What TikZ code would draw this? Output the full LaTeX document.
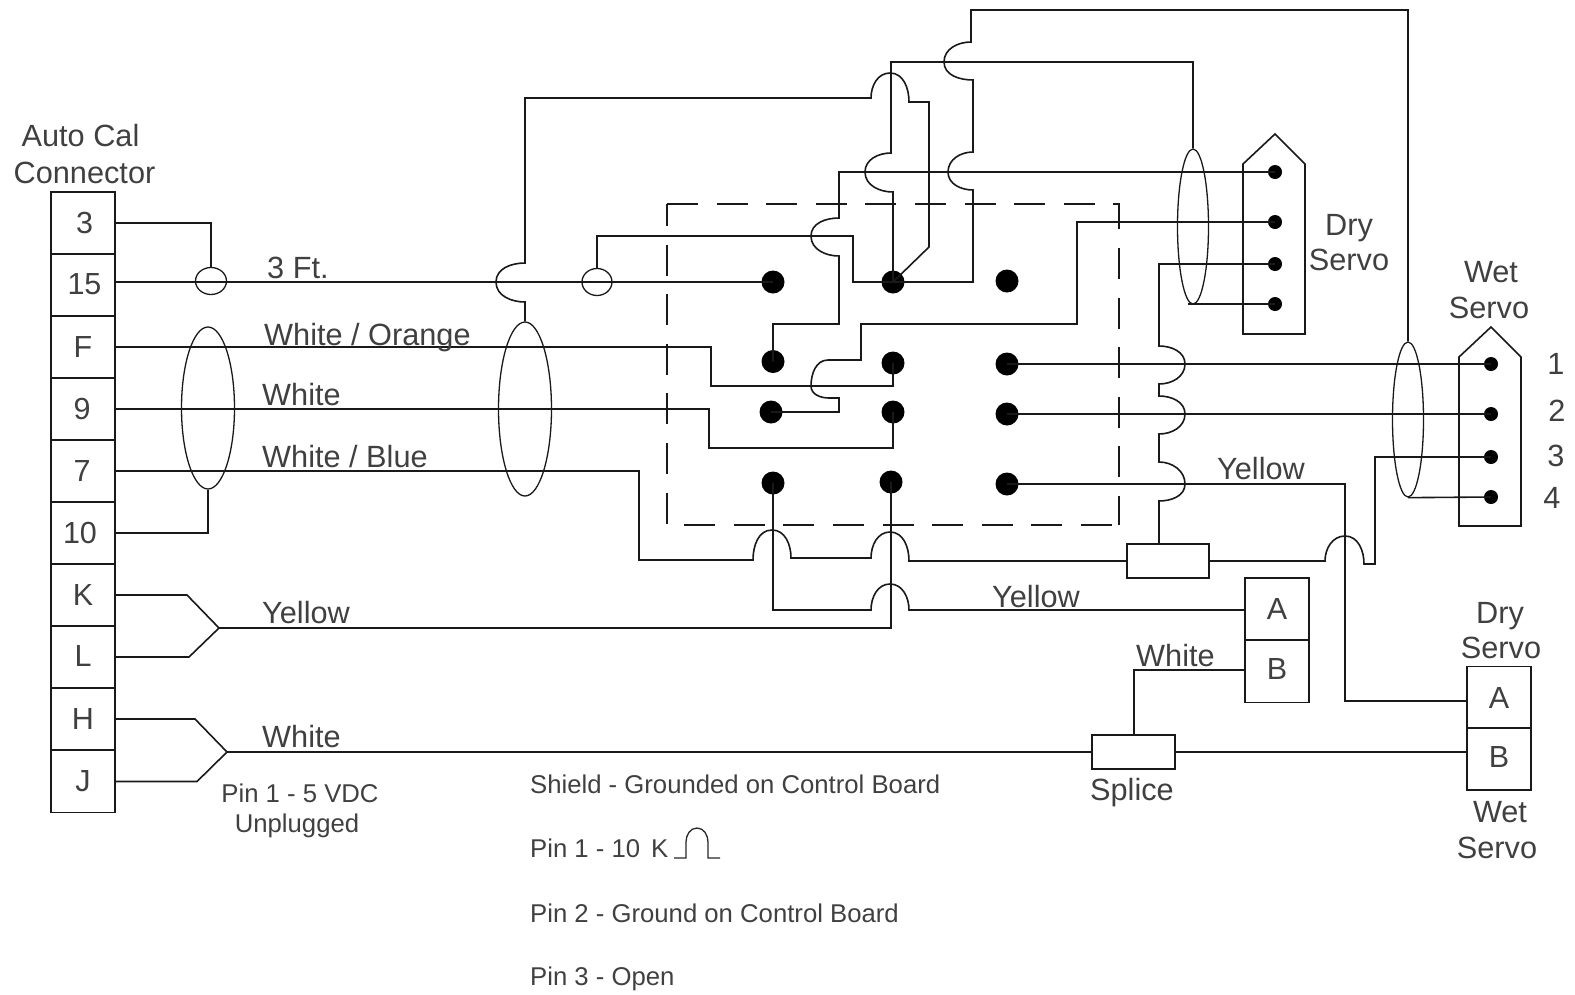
\documentclass[tikz,border=0pt]{standalone}
\usepackage{fontspec}
\setmainfont{Liberation Sans}
\usetikzlibrary{shapes.geometric}
\tikzset{
  wire/.style={draw=black!90,line width=1.6pt,line join=miter},
  cell/.style={draw=black!90,line width=1.6pt,rectangle,inner sep=0pt,minimum width=64pt,minimum height=62pt,text=black!75,font=\fontsize{30.5}{30.5}\selectfont},
  bigdot/.style={circle,fill=black,inner sep=0pt,minimum size=23pt},
  smalldot/.style={circle,fill=black,inner sep=0pt,minimum size=14pt},
  shield/.style={ellipse,draw=black!90,line width=1.3pt,inner sep=0pt},
  splicebox/.style={rectangle,draw=black!90,line width=1.6pt,inner sep=0pt,minimum height=34pt},
  boarddash/.style={draw=black!90,line width=1.6pt,dash pattern=on 31pt off 18.6pt},
  lab/.style={anchor=base west,inner sep=0pt,text=black!75,font=\fontsize{30.7}{30.7}\selectfont},
  labc/.style={anchor=base,inner sep=0pt,text=black!75,font=\fontsize{30.7}{30.7}\selectfont},
  note/.style={anchor=base west,inner sep=0pt,text=black!75,font=\fontsize{25.7}{25.7}\selectfont},
  notec/.style={anchor=base,inner sep=0pt,text=black!75,font=\fontsize{25.7}{25.7}\selectfont},
}
\begin{document}
\begin{tikzpicture}[x=1pt,y=-1pt]
\useasboundingbox (0,0) rectangle (1575,994);
% left connector
\node[cell] (c3) at (83,223) {\kern3pt 3};
\node[cell] (c15) at (83,285) {\kern3pt\raisebox{1pt}{15}};
\node[cell] (cF) at (83,347) {\raisebox{-3pt}{F}};
\node[cell] (c9) at (83,409) {\kern-2pt\raisebox{1pt}{9}};
\node[cell] (c7) at (83,471) {\kern-2pt\raisebox{-1pt}{7}};
\node[cell] (c10) at (83,533) {\kern-6pt\raisebox{-4pt}{10}};
\node[cell] (cK) at (83,595) {K};
\node[cell] (cL) at (83,657) {\raisebox{2pt}{L}};
\node[cell] (cH) at (83,719) {\raisebox{-4pt}{H}};
\node[cell] (cJ) at (83,781.5) {\raisebox{-1pt}{J}};
% right boxes
\node[cell] (A1) at (1277,609) {\raisebox{-1pt}{A}};
\node[cell] (B1) at (1277,671.5) {\raisebox{5pt}{B}};
\node[cell] (A2) at (1499,697.5) {A};
\node[cell] (B2) at (1499,759) {\raisebox{4pt}{B}};
% splices
\node[splicebox,minimum width=82pt] (res) at (1168,561) {};
\node[splicebox,minimum width=83pt] (spl) at (1133.5,752) {};
% shields
\node[shield,minimum width=31pt,minimum height=27pt] (cir1) at (211,281) {};
\node[shield,minimum width=30pt,minimum height=27pt] (cir2) at (597,282) {};
\node[shield,minimum width=53pt,minimum height=162pt] (e1) at (208,408) {};
\node[shield,minimum width=53pt,minimum height=174pt] (e2) at (525,409) {};
\node[shield,minimum width=31pt,minimum height=155pt] (e3) at (1193,226.5) {};
\node[shield,minimum width=31pt,minimum height=155pt] (e4) at (1408,419.5) {};
% board dots
\node[bigdot] (d11) at (773,282) {};
\node[bigdot] (d12) at (893,282) {};
\node[bigdot] (d13) at (1007,281) {};
\node[bigdot] (d21) at (773,361.5) {};
\node[bigdot] (d22) at (893,363) {};
\node[bigdot] (d23) at (1007,364) {};
\node[bigdot] (d31) at (771,412) {};
\node[bigdot] (d32) at (893,412) {};
\node[bigdot] (d33) at (1007,414) {};
\node[bigdot] (d41) at (773,483) {};
\node[bigdot] (d42) at (891,482) {};
\node[bigdot] (d43) at (1007,484) {};
% servo pins
\node[smalldot] (s1) at (1275,172) {};
\node[smalldot] (s2) at (1275,222) {};
\node[smalldot] (s3) at (1275,264) {};
\node[smalldot] (s4) at (1275,304) {};
\node[smalldot] (w1) at (1491,364) {};
\node[smalldot] (w2) at (1491,414) {};
\node[smalldot] (w3) at (1491,457) {};
\node[smalldot] (w4) at (1491,497) {};
% wire end coordinates
\coordinate (yj) at (219,628);
\coordinate (wj) at (227,752);
\coordinate (a1w) at (1245,610);
\coordinate (b1w) at (1245,670);
\coordinate (a2w) at (1467,701);
\coordinate (b2w) at (1467,752);
\coordinate (rest) at (1159,544);
\coordinate (splt) at (1134,735);
\coordinate (board) at (667,204);
% connector shells
\draw[wire] (1243,334) -- (1243,164) -- (1275,134) -- (1305,164) -- (1305,334) -- cycle;
\draw[wire] (1459,526) -- (1459,357) -- (1491,327) -- (1521,357) -- (1521,526) -- cycle;
% dashed board outline
\draw[boarddash,dash phase=0pt] (board) -- (1119,204) -- (1119,525);
\draw[boarddash,dash phase=9pt] (board) -- (667,525) -- (1119,525);
% wires
\draw[wire] (c3.east) -| (cir1.north);
\draw[wire] (c15.east |- d11.center) -- (d11.center);
\draw[wire] (c10.east) -| (e1.south);
\draw[wire] (cF.east) -- (711,347) -- (711,386) -- (893,386) -- (d22.center);
\draw[wire] (c9.east) -- (709,409) -- (709,448) -- (893,448) -- (d32.center);
\draw[wire] (c7.east) -- (639,471) -- (639,560) -- (753,560) to[out=90,in=180] (772,530) to[out=0,in=90] (791,558) -- (871,558) to[out=90,in=180] (890,532) to[out=0,in=90] (909,561) -- (res.west);
\draw[wire] (res.east) -- (1325,561) to[out=90,in=180] (1345,536) to[out=0,in=90] (1364,564) -- (1375,564) -- (1375,457) -- (w3.center);
\draw[wire] (d12.center) -- (893,192) to[out=180,in=-90] (865,172) to[out=90,in=180] (891,153) -- (891,62) -- (1193,62) -- (e3.north);
\draw[wire] (d12.center) -- (929,247) -- (929,102) -- (909,102) to[out=90,in=0] (890,73) to[out=180,in=90] (871,98) -- (525,98) -- (525,263) to[out=180,in=90] (496,282) to[out=-90,in=180] (525,302) -- (e2.north);
\draw[wire] (d12.center) -- (853,282) -- (853,236) -- (597,236) -- (cir2.north);
\draw[wire] (d12.center) -- (973,282) -- (973,190) to[out=180,in=-90] (948,172) to[out=90,in=180] (973,152) -- (973,80) to[out=180,in=-90] (944,62) to[out=90,in=180] (971,42) -- (971,10) -- (1408,10) -- (e4.north);
\draw[wire] (s1.center) -- (839,172) -- (839,218) to[out=180,in=90] (811,236) to[out=-90,in=180] (839,256) -- (839,324) -- (773,324) -- (d21.center);
\draw[wire] (s2.center) -- (1077,222) -- (1077,324) -- (861,324) -- (861,360) -- (828,360) to[out=180,in=90] (811,386) to[out=-90,in=180] (829,398) -- (839,398) -- (839,412) -- (d31.center);
\draw[wire] (s3.center) -- (1159,264) -- (1159,346) to[out=0,in=90] (1185,364) to[out=-90,in=0] (1159,384) -- (1159,396) to[out=0,in=90] (1185,414) to[out=-90,in=0] (1159,434) -- (1159,462) to[out=0,in=90] (1185,484) to[out=-90,in=0] (1159,501) -- (rest);
\draw[wire] (s4.center) -- (1188,304);
\draw[wire] (d23.center) -- (w1.center);
\draw[wire] (d33.center) -- (w2.center);
\draw[wire] (d43.center) -- (1345,484) -- (1345,701) -- (a2w);
\draw[wire] (e4.south) -- (w4.center);
\draw[wire] (d41.center) -- (773,610) -- (871,610) to[out=90,in=180] (890,584) to[out=0,in=90] (909,610) -- (a1w);
\draw[wire] (d42.center) -- (891,628) -- (yj) -- (187,595) -- (cK.east);
\draw[wire] (yj) -- (189,657) -- (cL.east);
\draw[wire] (cH.east) -- (195,719) -- (wj) -- (197,781.5) -- (cJ.east);
\draw[wire] (wj) -- (spl.west);
\draw[wire] (spl.east) -- (b2w);
\draw[wire] (b1w) -- (1134,670) -- (splt);
% labels
\node[labc] (t1) at (80.5,146) {Auto Cal};
\node[labc] (t2) at (84.5,183) {Connector};
\node[lab] (t3) at (267,278) {3 Ft.};
\node[lab] (t4) at (264,345) {White / Orange};
\node[lab] (t5) at (262,405) {White};
\node[lab] (t6) at (262,467) {White / Blue};
\node[lab] (t7) at (262,623) {Yellow};
\node[lab] (t8) at (262,747) {White};
\node[lab] (t9) at (992,607) {Yellow};
\node[lab] (t10) at (1217,479) {Yellow};
\node[lab] (t11) at (1136,666) {White};
\node[labc] (t12) at (1132,800) {Splice};
\node[labc] (t13) at (1349,235) {Dry};
\node[labc] (t14) at (1349,270) {Servo};
\node[labc] (t15) at (1491,282) {Wet};
\node[labc] (t16) at (1489,318) {Servo};
\node[labc] (t17) at (1500,623) {Dry};
\node[labc] (t18) at (1501,658) {Servo};
\node[labc] (t19) at (1500,822) {Wet};
\node[labc] (t20) at (1497,858) {Servo};
\node[labc] (n1) at (1556,374) {1};
\node[labc] (n2) at (1557,421) {2};
\node[labc] (n3) at (1556,466) {3};
\node[labc] (n4) at (1552,508) {4};
\node[notec] (p1) at (300,802) {Pin 1 - 5 VDC};
\node[notec] (p2) at (297,832) {Unplugged};
\node[note] (q1) at (530,793) {Shield - Grounded on Control Board};
\node[note] (q2) at (530,857) {Pin 1 - 10\kern11pt K};
\node[note] (q3) at (530,922) {Pin 2 - Ground on Control Board};
\node[note] (q4) at (530,985) {Pin 3 - Open};
% ohm sign drawn beside the note
\draw[line width=1.3pt,black!85] (674,858) -- (686,858) -- (686,842) to[out=90,in=180] (697,828) to[out=0,in=90] (708,842) -- (708,858) -- (720,858);
\end{tikzpicture}
\end{document}
